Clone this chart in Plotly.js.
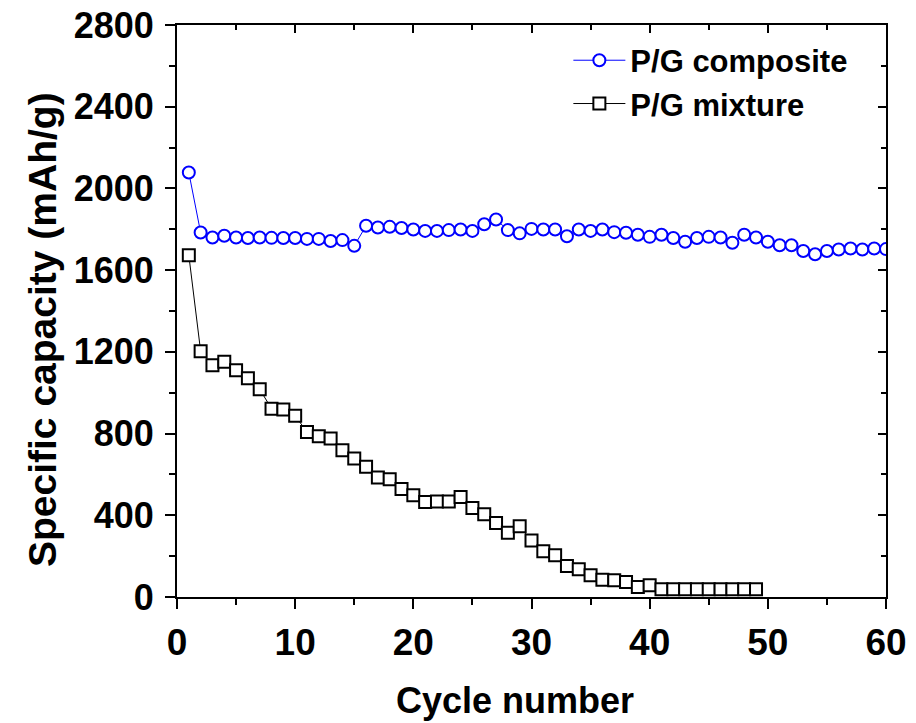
<!DOCTYPE html>
<html>
<head>
<meta charset="utf-8">
<script src="https://cdn.plot.ly/plotly-3.0.1.min.js"></script>
<style>html,body{margin:0;padding:0;background:#fff;}#chart{width:916px;height:723px;}</style>
</head>
<body>
<div id="chart"></div>
<script>
var compositeCycles = [1,2,3,4,5,6,7,8,9,10,11,12,13,14,15,16,17,18,19,20,21,22,23,24,25,26,27,28,29,30,31,32,33,34,35,36,37,38,39,40,41,42,43,44,45,46,47,48,49,50,51,52,53,54,55,56,57,58,59,60];
var compositeCapacity = [2078,1784,1760,1768,1760,1757,1760,1758,1757,1757,1753,1753,1743,1747,1719,1817,1809,1812,1806,1799,1792,1792,1796,1799,1792,1825,1848,1796,1780,1802,1799,1799,1766,1799,1792,1799,1786,1783,1773,1763,1773,1757,1739,1757,1763,1760,1734,1773,1760,1739,1722,1722,1694,1678,1694,1701,1706,1701,1706,1703];
var mixtureCycles = [1,2,3,4,5,6,7,8,9,10,11,12,13,14,15,16,17,18,19,20,21,22,23,24,25,26,27,28,29,30,31,32,33,34,35,36,37,38,39,40,41,42,43,44,45,46,47,48,49];
var mixtureCapacity = [1673,1203,1135,1151,1110,1071,1017,922,918,887,808,787,776,718,678,637,585,576,529,498,465,467,467,490,436,405,362,314,346,276,224,204,152,136,106,85,82,73,49,57,38,38,38,38,38,38,38,38,38];
var seriesNames = ["P/G composite", "P/G mixture"];
var xTitle = "Cycle number";
var yTitle = "Specific capacity (mAh/g)";

var FONT = "Arial, 'Liberation Sans', sans-serif";

var traces = [
  {
    x: compositeCycles, y: compositeCapacity, name: seriesNames[0],
    type: "scatter", mode: "lines+markers",
    line: {color: "#0000ff", width: 1},
    marker: {symbol: "circle", size: 12, color: "#ffffff", line: {color: "#0000ff", width: 2}}
  },
  {
    x: mixtureCycles, y: mixtureCapacity, name: seriesNames[1],
    type: "scatter", mode: "lines+markers",
    line: {color: "#000000", width: 1},
    marker: {symbol: "square", size: 12, color: "#ffffff", line: {color: "#000000", width: 2}}
  }
];

var layout = {
  width: 916, height: 723,
  margin: {l: 177, r: 30, t: 25, b: 126, pad: 0},
  paper_bgcolor: "#ffffff", plot_bgcolor: "#ffffff",
  font: {family: FONT, color: "#000000"},
  showlegend: true,
  legend: {
    x: 0.552, y: 0.985, xanchor: "left", yanchor: "top",
    bgcolor: "rgba(0,0,0,0)", borderwidth: 0,
    font: {family: FONT, size: 31, weight: "bold", color: "#000"},
    itemwidth: 52, tracegroupgap: 0
  },
  xaxis: {
    range: [0, 60], dtick: 10, tick0: 0,
    showgrid: false, zeroline: false,
    showline: true, linecolor: "#000", linewidth: 2, mirror: true,
    ticks: "outside", ticklen: 10, tickwidth: 2, tickcolor: "#000",
    minor: {dtick: 5, ticks: "outside", ticklen: 6, tickwidth: 2, tickcolor: "#000", showgrid: false},
    tickfont: {family: FONT, size: 37, weight: "bold"},
    ticklabelstandoff: 2
  },
  yaxis: {
    range: [0, 2800], dtick: 400, tick0: 0,
    showgrid: false, zeroline: false,
    showline: true, linecolor: "#000", linewidth: 2, mirror: true,
    ticks: "outside", ticklen: 10, tickwidth: 2, tickcolor: "#000",
    minor: {dtick: 200, ticks: "outside", ticklen: 6, tickwidth: 2, tickcolor: "#000", showgrid: false},
    tickfont: {family: FONT, size: 36, weight: "bold"},
    ticklabelstandoff: 4
  },
  xaxis2: {
    overlaying: "x", side: "top", anchor: "y", matches: "x",
    range: [0, 60], dtick: 10, showticklabels: false, showgrid: false, zeroline: false,
    ticks: "inside", ticklen: 8, tickwidth: 2, tickcolor: "#000",
    minor: {dtick: 5, ticks: "inside", ticklen: 5, tickwidth: 2, tickcolor: "#000"}
  },
  yaxis2: {
    overlaying: "y", side: "right", anchor: "x", matches: "y",
    range: [0, 2800], dtick: 400, showticklabels: false, showgrid: false, zeroline: false,
    ticks: "inside", ticklen: 8, tickwidth: 2, tickcolor: "#000",
    minor: {dtick: 200, ticks: "inside", ticklen: 5, tickwidth: 2, tickcolor: "#000"}
  },
  annotations: [
    {
      text: xTitle, xref: "paper", yref: "paper",
      x: (515 - 177) / 709, y: -(700 - 597) / 572,
      xanchor: "center", yanchor: "middle", showarrow: false,
      font: {family: FONT, size: 36, weight: "bold", color: "#000"}
    },
    {
      text: yTitle, xref: "paper", yref: "paper", textangle: -90,
      x: (42 - 177) / 709, y: (597 - 330) / 572,
      xanchor: "center", yanchor: "middle", showarrow: false,
      font: {family: FONT, size: 39, weight: "bold", color: "#000"}
    }
  ]
};

traces.push({x: [], y: [], xaxis: "x2", yaxis: "y2", showlegend: false, hoverinfo: "skip", type: "scatter", mode: "markers"});

Plotly.newPlot("chart", traces, layout, {staticPlot: true, displayModeBar: false});
</script>
</body>
</html>
